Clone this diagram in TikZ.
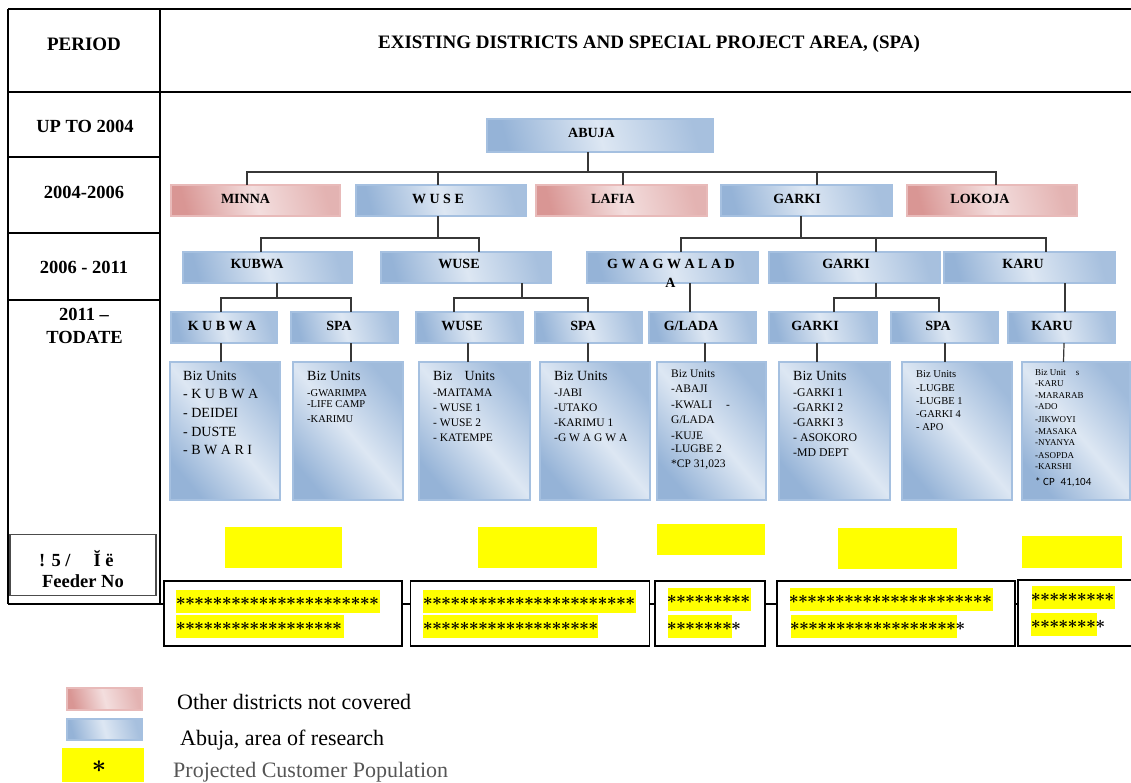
\documentclass[tikz,border=0pt]{standalone}
\usepackage{fontspec}
\setmainfont{Liberation Serif}
\newfontfamily\calib{Carlito}
\definecolor{bdk}{RGB}{149,179,215}
\definecolor{blt}{RGB}{221,231,243}
\definecolor{bbd}{RGB}{165,192,224}
\definecolor{pdk}{RGB}{217,150,148}
\definecolor{plt}{RGB}{243,222,222}
\definecolor{pbd}{RGB}{232,186,185}
\definecolor{ylw}{RGB}{255,255,0}
\definecolor{lnkc}{RGB}{55,55,55}
\definecolor{legg}{RGB}{85,85,85}
\newcommand\myfs[1]{\fontsize{#1}{#1}\selectfont}
\newcommand\mystars[1]{\foreach \k in {1,...,#1}{\makebox[9.2pt]{\boldmath$\ast$}}}
\newcommand\bigast{\mbox{\boldmath$\ast$}}
\tikzset{
  bbox/.style={draw=bbd, line width=1.6pt, inner sep=0pt, minimum height=31pt,
     left color=bdk, right color=bdk!75!blt, middle color=blt, shading angle=105},
  pbox/.style={draw=pbd, line width=1.6pt, inner sep=0pt, minimum height=31pt,
     left color=pdk, right color=pdk!60!plt, middle color=plt, shading angle=105},
  bizbox/.style={draw=bbd, line width=1.6pt, inner sep=0pt, minimum height=138pt,
     left color=bdk, right color=bdk!85!blt, middle color=blt, shading angle=130},
  lbl/.style={inner sep=0pt, font=\myfs{14}\bfseries},
  hd/.style={inner sep=0pt, font=\myfs{18.5}\bfseries},
  lnk/.style={draw=lnkc, line width=1.2pt, line cap=rect},
  ybox/.style={fill=ylw, inner sep=0pt},
  fbox/.style={draw=black, fill=white, line width=1.3pt, inner sep=0pt, minimum height=65pt},
  strip/.style={fill=ylw, inner sep=0pt, minimum height=23pt, anchor=west},
  stx/.style={inner sep=0pt, anchor=west, font=\myfs{17}},
  bt/.style={inner sep=0pt, anchor=west},
}
\begin{document}
\begin{tikzpicture}[x=1pt,y=-1pt]
\useasboundingbox (0,0) rectangle (1131,782);
% ---------- table frame ----------
\draw[line width=2.7pt] (8,9) -- (1135,9);
\draw[line width=2.7pt] (8,92) -- (1135,92);
\draw[line width=2pt] (8,9) -- (8,604);
\draw[line width=1.5pt] (160,9) -- (160,604);
\draw[line width=1.3pt] (8,157) -- (160,157);
\draw[line width=1.3pt] (8,233) -- (160,233);
\draw[line width=2pt] (8,300) -- (160,300);
\draw[line width=1.7pt] (8,604) -- (1135,604);
\node[inner sep=0pt, font=\myfs{19}\bfseries] (hperiod) at (84,44) {PERIOD};
\node[inner sep=0pt, font=\myfs{19}\bfseries] (htitle) at (649,44) {EXISTING DISTRICTS AND SPECIAL PROJECT AREA, (SPA)};
\node[hd] (r1) at (85,126) {UP TO 2004};
\node[hd] (r2) at (84,192) {2004-2006};
\node[hd] (r3) at (84,267.5) {2006 - 2011};
\node[hd] (r4a) at (84,314.5) {2011 –};
\node[hd] (r4b) at (84.5,337.5) {TODATE};
\node[draw=black!70, line width=1.3pt, inner sep=0pt, minimum width=146pt, minimum height=61pt] (feedlbl) at (83,565) {};
\node[hd, anchor=west] (fl1) at (39,559) {! 5 /\hspace{23pt}Ĭ ë};
\node[hd] (fl2) at (83,581) {Feeder No};
% ---------- tree level 0/1 ----------
\node[bbox, minimum width=226pt, minimum height=33pt] (abuja) at (600,135.5) {};
\node[lbl] (abujat) at (591.5,132.5) {ABUJA};
\node[pbox, minimum width=169pt] (minna) at (255.5,200.5) {};
\node[bbox, minimum width=170pt] (wuse1) at (441,200.5) {};
\node[pbox, minimum width=171pt] (lafia) at (621.5,200.5) {};
\node[bbox, minimum width=171pt] (garki1) at (806.5,200.5) {};
\node[pbox, minimum width=170pt] (lokoja) at (992,200.5) {};
\node[lbl] (minnat) at (245.5,198.5) {MINNA};
\node[lbl] (wuse1t) at (438,198.5) {W U S E};
\node[lbl] (lafiat) at (613,198.5) {LAFIA};
\node[lbl] (garki1t) at (797,198.5) {GARKI};
\node[lbl] (lokojat) at (980,198.5) {LOKOJA};
% ---------- level 2 ----------
\node[bbox, minimum width=169pt] (kubwa2) at (267.5,267.5) {};
\node[bbox, minimum width=170pt] (wuse2) at (466,267.5) {};
\node[bbox, minimum width=171pt] (gwag) at (672.5,267.5) {};
\node[bbox, minimum width=171pt] (garki2) at (854.5,267.5) {};
\node[bbox, minimum width=171pt] (karu2) at (1029.5,267.5) {};
\node[lbl] (kubwa2t) at (257,263.5) {KUBWA};
\node[lbl] (wuse2t) at (459,263.5) {WUSE};
\node[lbl] (gwagt) at (671,263.5) {G W A G W A L A D};
\node[lbl] (gwagt2) at (670.5,283) {A};
\node[lbl] (garki2t) at (846,263.5) {GARKI};
\node[lbl] (karu2t) at (1023,263.5) {KARU};
% ---------- level 3 ----------
\node[bbox, minimum width=106pt] (kubwa3) at (224,327.5) {};
\node[bbox, minimum width=107pt] (spa1) at (344.5,327.5) {};
\node[bbox, minimum width=107pt] (wuse3) at (469.5,327.5) {};
\node[bbox, minimum width=107pt] (spa2) at (588.5,327.5) {};
\node[bbox, minimum width=107pt] (glada) at (702.5,327.5) {};
\node[bbox, minimum width=108pt] (garki3) at (823,327.5) {};
\node[bbox, minimum width=107pt] (spa3) at (944.5,327.5) {};
\node[bbox, minimum width=107pt] (karu3) at (1061.5,327.5) {};
\node[lbl] (kubwa3t) at (222,326) {K U B W A};
\node[lbl] (spa1t) at (339,326) {SPA};
\node[lbl] (wuse3t) at (462,326) {WUSE};
\node[lbl] (spa2t) at (583,326) {SPA};
\node[lbl] (gladat) at (691,326) {G/LADA};
\node[lbl] (garki3t) at (815,326) {GARKI};
\node[lbl] (spa3t) at (938,326) {SPA};
\node[lbl] (karu3t) at (1052,326) {KARU};
% ---------- connectors ----------
\coordinate (busA) at (0,172);
\coordinate (busB) at (0,238);
\coordinate (busC) at (0,298);
\draw[lnk] ([xshift=-12pt]abuja.south) -- ([xshift=-12pt]abuja.south |- busA);
\draw[lnk] ([xshift=-8.5pt]minna.north |- busA) -- ([xshift=4pt]lokoja.north |- busA);
\foreach \n/\s in {minna/-8.5, wuse1/-3, lafia/1.5, garki1/10.5, lokoja/4}
  \draw[lnk] ([xshift=\s pt]\n.north) -- ([xshift=\s pt]\n.north |- busA);
\draw[lnk] ([xshift=-3pt]wuse1.south) -- ([xshift=-3pt]wuse1.south |- busB);
\draw[lnk] ([xshift=-6.5pt]kubwa2.north |- busB) -- ([xshift=13pt]wuse2.north |- busB);
\draw[lnk] ([xshift=-5.5pt]garki1.south) -- ([xshift=-5.5pt]garki1.south |- busB);
\draw[lnk] ([xshift=8.5pt]gwag.north |- busB) -- ([xshift=16.5pt]karu2.north |- busB);
\foreach \n/\s in {kubwa2/-6.5, wuse2/13, gwag/8.5, garki2/21.5, karu2/16.5}
  \draw[lnk] ([xshift=\s pt]\n.north) -- ([xshift=\s pt]\n.north |- busB);
\draw[lnk] ([xshift=9.5pt]kubwa2.south) -- ([xshift=9.5pt]kubwa2.south |- busC);
\draw[lnk] ([xshift=-3pt]kubwa3.north |- busC) -- ([xshift=6.5pt]spa1.north |- busC);
\draw[lnk] ([xshift=56pt]wuse2.south) -- ([xshift=56pt]wuse2.south |- busC);
\draw[lnk] ([xshift=-15.5pt]wuse3.north |- busC) -- ([xshift=-0.5pt]spa2.north |- busC);
\draw[lnk] ([xshift=21.5pt]garki2.south) -- ([xshift=21.5pt]garki2.south |- busC);
\draw[lnk] ([xshift=11pt]garki3.north |- busC) -- ([xshift=-5.5pt]spa3.north |- busC);
\foreach \n/\s in {kubwa3/-3, spa1/6.5, wuse3/-15.5, spa2/-0.5, garki3/11, spa3/-5.5}
  \draw[lnk] ([xshift=\s pt]\n.north) -- ([xshift=\s pt]\n.north |- busC);
\draw[lnk] ([xshift=17.5pt]gwag.south) -- ([xshift=-12.5pt]glada.north);
\draw[lnk] ([xshift=35.5pt]karu2.south) -- ([xshift=3.5pt]karu3.north);
% ---------- biz unit boxes ----------
\node[bizbox, minimum width=110pt] (b1) at (225,431) {};
\node[bizbox, minimum width=110pt] (b2) at (348,431) {};
\node[bizbox, minimum width=111pt] (b3) at (474.5,431) {};
\node[bizbox, minimum width=110pt] (b4) at (595,431) {};
\node[bizbox, minimum width=109pt] (b5) at (711.5,431) {};
\node[bizbox, minimum width=111pt] (b6) at (834.5,431) {};
\node[bizbox, minimum width=110pt] (b7) at (957,431) {};
\node[bizbox, minimum width=108pt] (b8) at (1076,431) {};
\foreach \a/\sa/\b/\sb in {kubwa3/-3/b1/-4, spa1/6.5/b2/3, wuse3/-1.5/b3/-6.5, spa2/-0.5/b4/-7,
    glada/2.5/b5/-6.5, garki3/-6/b6/-17.5, spa3/0.5/b7/-12, karu3/2.5/b8/-12.5}
  \draw[lnk] ([xshift=\sa pt]\a.south) -- ([xshift=\sb pt]\b.north);
% box 1
\foreach \t/\y [count=\i] in {{Biz Units}/376, {- K U B W A}/394, {- DEIDEI}/413, {- DUSTE}/432, {- B W A R I}/450}
  \node[bt, font=\myfs{14}] (bone\i) at (183,\y) {\t};
% box 2
\node[bt, font=\myfs{14}] (btwoh) at (307,376) {Biz Units};
\foreach \t/\y [count=\i] in {{-GWARIMPA}/393, {-LIFE CAMP}/404, {-KARIMU}/419}
  \node[bt, font=\myfs{10.5}] (btwo\i) at (307,\y) {\t};
% box 3
\node[bt, font=\myfs{14}] (bthreeh) at (433,376) {Biz\hspace{12pt}Units};
\foreach \t/\y [count=\i] in {{-MAITAMA}/393, {- WUSE 1}/408, {- WUSE 2}/423, {- KATEMPE}/438}
  \node[bt, font=\myfs{11.5}] (bthree\i) at (433,\y) {\t};
% box 4
\node[bt, font=\myfs{14}] (bfourh) at (554,376) {Biz Units};
\foreach \t/\y [count=\i] in {{-JABI}/393, {-UTAKO}/408, {-KARIMU 1}/423, {-G W A G W A}/438}
  \node[bt, font=\myfs{11.5}] (bfour\i) at (554,\y) {\t};
% box 5
\foreach \t/\y [count=\i] in {{Biz Units}/374, {-ABAJI}/389, {-KWALI\hspace{14pt}-}/405, {G/LADA}/420, {-KUJE}/436, {-LUGBE 2}/449, {*CP 31,023}/465}
  \node[bt, font=\myfs{11.5}] (bfive\i) at (671,\y) {\t};
% box 6
\node[bt, font=\myfs{14}] (bsixh) at (793,376) {Biz Units};
\foreach \t/\y [count=\i] in {{-GARKI 1}/393, {-GARKI 2}/408, {-GARKI 3}/423, {- ASOKORO}/438, {-MD DEPT}/453}
  \node[bt, font=\myfs{11.8}] (bsix\i) at (793,\y) {\t};
% box 7
\foreach \t/\y [count=\i] in {{Biz Units}/374, {-LUGBE}/388, {-LUGBE 1}/401, {-GARKI 4}/414, {- APO}/427}
  \node[bt, font=\myfs{10.5}] (bseven\i) at (916,\y) {\t};
% box 8
\foreach \t/\y [count=\i] in {{Biz Unit\hspace{10pt}s}/373, {-KARU}/384, {-MARARAB}/396, {-ADO}/407, {-JIKWOYI}/420, {-MASAKA}/432, {-NYANYA}/443, {-ASOPDA}/456, {-KARSHI}/467}
  \node[bt, font=\myfs{9}] (beight\i) at (1035,\y) {\t};
\node[bt, font=\calib\myfs{11}] (beightcp) at (1035,482) {* CP\hspace{6pt}41,104};
% ---------- yellow boxes ----------
\node[ybox, minimum width=117pt, minimum height=41pt] (y1) at (283.5,547.5) {};
\node[ybox, minimum width=119pt, minimum height=41pt] (y2) at (537.5,547.5) {};
\node[ybox, minimum width=108pt, minimum height=31pt] (y3) at (711,539.5) {};
\node[ybox, minimum width=119pt, minimum height=41pt] (y4) at (897.5,548.5) {};
\node[ybox, minimum width=100pt, minimum height=32pt] (y5) at (1072,551.5) {};
% ---------- feeder boxes ----------
\node[fbox, minimum width=238pt] (f1) at (283,613.5) {};
\node[fbox, minimum width=239pt] (f2) at (530,613.5) {};
\node[fbox, minimum width=110pt] (f3) at (710,613.5) {};
\node[fbox, minimum width=238pt] (f4) at (896,613.5) {};
\node[fbox, minimum width=130pt, minimum height=66pt] (f5) at (1083,613) {};
% strips
\node[strip, minimum width=204pt] (s1a) at (176,601) {};
\node[strip, minimum width=168pt] (s1b) at (176,626.5) {};
\node[strip, minimum width=213pt] (s2a) at (423,601) {};
\node[strip, minimum width=175pt] (s2b) at (423,626.5) {};
\node[strip, minimum width=83pt] (s3a) at (668,599.5) {};
\node[strip, minimum width=64pt] (s3b) at (668,626.5) {};
\node[strip, minimum width=203pt] (s4a) at (790,599.5) {};
\node[strip, minimum width=166pt] (s4b) at (791,626.5) {};
\node[strip, minimum width=83pt] (s5a) at (1032,597.5) {};
\node[strip, minimum width=66pt] (s5b) at (1031,624.5) {};
\node[stx] (t1a) at (176,601) {\mystars{22}};
\node[stx] (t1b) at (176,626.5) {\mystars{18}};
\node[stx] (t2a) at (423,601) {\mystars{23}};
\node[stx] (t2b) at (423,626.5) {\mystars{19}};
\node[stx] (t3a) at (667,599.5) {\mystars{9}};
\node[stx] (t3b) at (667,626.5) {\mystars{8}};
\node[stx] (t4a) at (789,599.5) {\mystars{22}};
\node[stx] (t4b) at (790,626.5) {\mystars{19}};
\node[stx] (t5a) at (1031,597.5) {\mystars{9}};
\node[stx] (t5b) at (1031,624.5) {\mystars{8}};
% ---------- legend ----------
\node[pbox, minimum width=75pt, minimum height=22pt] (lgp) at (104.5,699) {};
\node[bbox, minimum width=75pt, minimum height=21pt] (lgb) at (104.5,729.5) {};
\node[ybox, minimum width=82pt, minimum height=34pt] (lgy) at (103,765) {};
\node[inner sep=0pt, font=\myfs{26}] (lgys) at (99,767) {\bigast};
\node[inner sep=0pt, anchor=base west, font=\myfs{22}] (lgpt) at (177,709) {Other districts not covered};
\node[inner sep=0pt, anchor=base west, font=\myfs{22}] (lgbt) at (180,745) {Abuja, area of research};
\node[inner sep=0pt, anchor=base west, font=\myfs{22}, text=legg] (lgyt) at (173,777) {Projected Customer Population};
\end{tikzpicture}
\end{document}
